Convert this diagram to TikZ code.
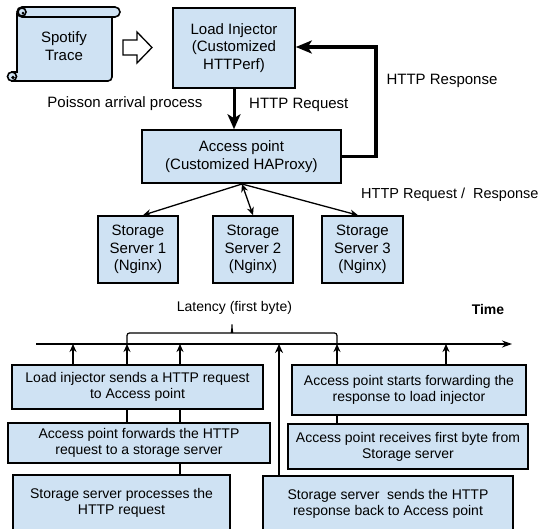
\documentclass[tikz,border=0pt]{standalone}
\usepackage{fontspec}
\setmainfont{Liberation Sans}
\usetikzlibrary{arrows.meta,calc,backgrounds}
\definecolor{boxblue}{RGB}{207,226,243}
\begin{document}
\begin{tikzpicture}[x=1pt,y=-1pt,
  box/.style={draw=black,fill=boxblue,line width=1.6pt,inner sep=0pt,align=center},
  topfont/.style={font=\fontsize{15}{17.5}\selectfont},
  lowfont/.style={font=\fontsize{14}{16}\selectfont},
  lbl/.style={inner sep=0pt,font=\fontsize{15}{17.5}\selectfont},
  scroll/.style={draw=black,fill=boxblue,line width=1.6pt},
  thinarrow/.style={line width=1.3pt,-{Stealth[length=8pt,width=7pt]}},
  bothways/.style={line width=1.3pt,{Stealth[length=8pt,width=7pt]}-{Stealth[length=8pt,width=7pt]}},
  thickarrow/.style={line width=3pt,-{Stealth[length=15pt,width=13pt,inset=4pt]}},
  uparrow/.style={line width=1.3pt,-{Stealth[length=8pt,width=7pt]}},
  thickup/.style={line width=2.2pt,-{Stealth[length=9pt,width=8pt]}},
  timeaxis/.style={line width=1.3pt,-{Stealth[length=10pt,width=7pt]}}
]
\useasboundingbox (0,0) rectangle (544,528);
\clip (0,0) rectangle (544,528);

% ---------- scroll: Spotify Trace ----------
\path[scroll] (17,14) -- (112,14) [rounded corners=4pt] -- (112,81) [sharp corners] -- (12,81) -- (12,72) -- (17,72) -- cycle;
\path[scroll,rounded corners=5pt] (17,7) rectangle (120,17);
\path[scroll] (22,12) circle[radius=4];
\fill (23,13) circle[radius=1.5];
\path[scroll] (12,76.5) circle[radius=4.5];
\fill (13,77.5) circle[radius=1.8];
\node[lbl,align=center] (st) at (64,46) {Spotify\\Trace};

% block arrow
\draw[line width=1.3pt,fill=white] (123,40) -- (137,40) -- (137,32) -- (152,47.5) -- (137,63) -- (137,55) -- (123,55) -- cycle;

% ---------- top boxes ----------
\node[box,topfont,minimum width=122pt,minimum height=80pt] (li) at (234,48) {Load Injector\\(Customized\\HTTPerf)};
\node[box,topfont,minimum width=199pt,minimum height=53pt] (ap) at (241.5,156.5) {Access point\\(Customized HAProxy)};
\node[box,topfont,minimum width=80pt,minimum height=67pt] (s1) at (138,249.5) {Storage\\Server 1\\(Nginx)};
\node[box,topfont,minimum width=80pt,minimum height=67pt] (s2) at (253,249.5) {Storage\\Server 2\\(Nginx)};
\node[box,topfont,minimum width=81pt,minimum height=67pt] (s3) at (362.5,249.5) {Storage\\Server 3\\(Nginx)};

% labels
\node[lbl] (poisson) at (125,104) {Poisson arrival process};
\node[lbl,anchor=west] (req) at (249,105) {HTTP Request};
\node[lbl] (resp) at (442,81) {HTTP Response};
\node[lbl,anchor=west,font=\fontsize{14.5}{17}\selectfont] (reqresp) at (361,195) {HTTP Request /\ \ Response};

% connectors top
\draw[thickarrow] (li.south) -- (li.south |- ap.north);
\coordinate (rc) at (376,47);
\draw[line width=3.5pt,-{Stealth[length=16pt,width=13pt,inset=4pt]}] (ap.east) -| (rc) -- (rc -| li.east);
\coordinate (apb) at (242,184);
\draw[thinarrow] (apb) -- ($(s1.north)+(5,0)$);
\draw[bothways] (apb) -- (s2.north);
\draw[thinarrow] (apb) -- ($(s3.north)+(-4.5,0)$);

% ---------- timeline ----------
\node[lbl] (lat) at (234.5,308) {\fontsize{14}{16}\selectfont Latency (first byte)};
\node[lbl] (time) at (488,309) {\fontsize{14}{16}\selectfont\bfseries Time};
\coordinate (tl0) at (36,344);
\coordinate (tl1) at (512,344);
\draw[timeaxis] (tl0) -- (tl1);
\coordinate (t1) at (73,344);
\coordinate (t2) at (127,344);
\coordinate (t3) at (180,344);
\coordinate (t4) at (279,344);
\coordinate (t5) at (337,344);
\coordinate (t6) at (446,344);

% brace
\draw[line width=1.2pt,rounded corners=2.5pt] (t2) |- (229,333) .. controls (231,333) and (232,330) .. (232,323) .. controls (232,330) and (233,333) .. (235,333) -| (t5);

% ---------- lower boxes ----------
\node[box,lowfont,minimum width=251pt,minimum height=44pt] (ba) at (137.5,387) {Load injector sends a HTTP request\\to Access point};
\node[box,lowfont,minimum width=262pt,minimum height=40pt] (bb) at (139,443) {Access point forwards the HTTP\\request to a storage server};
\node[box,lowfont,minimum width=217pt,minimum height=56pt] (bc) at (121.5,503) {Storage server processes the\\HTTP request};
\node[box,lowfont,minimum width=234pt,minimum height=50pt] (bd) at (409,390) {Access point starts forwarding the\\response to load injector};
\node[box,lowfont,minimum width=240pt,minimum height=45pt] (be) at (408,446.5) {Access point receives first byte from\\Storage server};
\node[box,lowfont,minimum width=250pt,minimum height=55pt] (bf) at (388,503.5) {Storage server\ \ sends the HTTP\\response back to Access point};

\begin{pgfonlayer}{background}
\draw[uparrow] (t1 |- ba.north) -- (t1);
\draw[uparrow] (t2 |- bb.north) -- (t2);
\draw[uparrow] (t3 |- bc.north) -- (t3);
\draw[thickup] (t4 |- bf.north) -- (t4);
\draw[uparrow] (t5 |- be.north) -- (t5);
\draw[uparrow] (t6 |- bd.north) -- (t6);
\end{pgfonlayer}
\end{tikzpicture}
\end{document}
